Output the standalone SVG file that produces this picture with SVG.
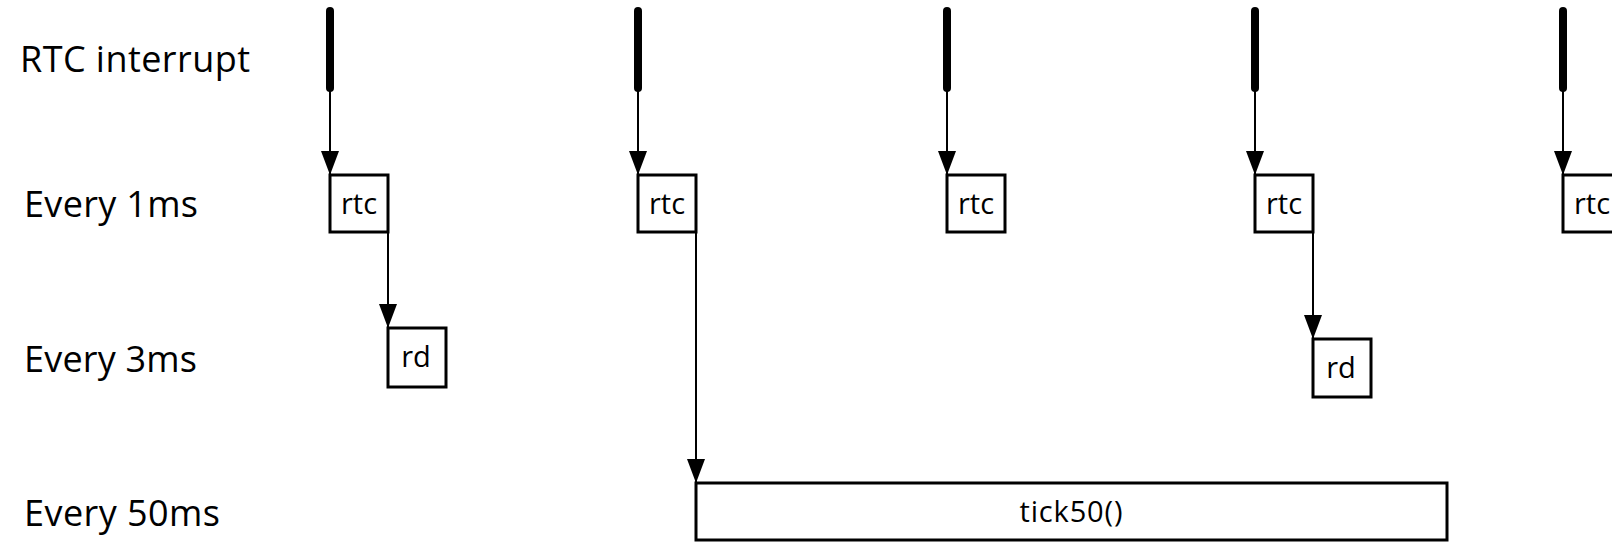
<svg xmlns="http://www.w3.org/2000/svg" width="1612" height="543" viewBox="0 0 1612 543">
<style>
.lbl{font-family:"Open Sans","Liberation Sans",sans-serif;font-size:36px;fill:#000}
.bt{font-family:"Open Sans","Liberation Sans",sans-serif;font-size:29px;fill:#000;text-anchor:middle}
.box{fill:#fff;stroke:#000;stroke-width:3}
.bar{stroke:#000;stroke-width:8;stroke-linecap:round}
.conn{stroke:#000;stroke-width:2;fill:none;marker-end:url(#ah)}
</style>
<defs>
<marker id="ah" markerUnits="userSpaceOnUse" markerWidth="24" markerHeight="18" refX="24" refY="9" orient="auto" viewBox="0 0 24 18">
<path d="M0,0 L24,9 L0,18 z" fill="#000"/>
</marker>
</defs>
<rect width="1612" height="543" fill="#fff"/>
<g id="labels">
<text class="lbl" x="20" y="72" textLength="230">RTC interrupt</text>
<text class="lbl" x="24" y="217" textLength="174">Every 1ms</text>
<text class="lbl" x="24" y="372" textLength="173">Every 3ms</text>
<text class="lbl" x="24" y="526" textLength="196">Every 50ms</text>
</g>
<g id="interrupts">
<line class="bar" x1="330" y1="11" x2="330" y2="88"/>
<line class="bar" x1="638" y1="11" x2="638" y2="88"/>
<line class="bar" x1="947" y1="11" x2="947" y2="88"/>
<line class="bar" x1="1255" y1="11" x2="1255" y2="88"/>
<line class="bar" x1="1563" y1="11" x2="1563" y2="88"/>
</g>
<g id="connectors">
<line class="conn" x1="330" y1="88" x2="330" y2="175"/>
<line class="conn" x1="638" y1="88" x2="638" y2="175"/>
<line class="conn" x1="947" y1="88" x2="947" y2="175"/>
<line class="conn" x1="1255" y1="88" x2="1255" y2="175"/>
<line class="conn" x1="1563" y1="88" x2="1563" y2="175"/>
<line class="conn" x1="388" y1="232" x2="388" y2="328"/>
<line class="conn" x1="696" y1="232" x2="696" y2="483"/>
<line class="conn" x1="1313" y1="232" x2="1313" y2="339"/>
</g>
<g id="rtc1"><rect class="box" x="330" y="175" width="58" height="57"/><text class="bt" x="359" y="214">rtc</text></g>
<g id="rtc2"><rect class="box" x="638" y="175" width="58" height="57"/><text class="bt" x="667" y="214">rtc</text></g>
<g id="rtc3"><rect class="box" x="947" y="175" width="58" height="57"/><text class="bt" x="976" y="214">rtc</text></g>
<g id="rtc4"><rect class="box" x="1255" y="175" width="58" height="57"/><text class="bt" x="1284" y="214">rtc</text></g>
<g id="rtc5"><rect class="box" x="1563" y="175" width="58" height="57"/><text class="bt" x="1592" y="214">rtc</text></g>
<g id="rd1"><rect class="box" x="388" y="328" width="58" height="59"/><text class="bt" x="416" y="367">rd</text></g>
<g id="rd2"><rect class="box" x="1313" y="339" width="58" height="58"/><text class="bt" x="1341" y="378">rd</text></g>
<g id="tick50"><rect class="box" x="696" y="483" width="751" height="57"/><text class="bt" x="1071" y="522" textLength="103">tick50()</text></g>
</svg>
